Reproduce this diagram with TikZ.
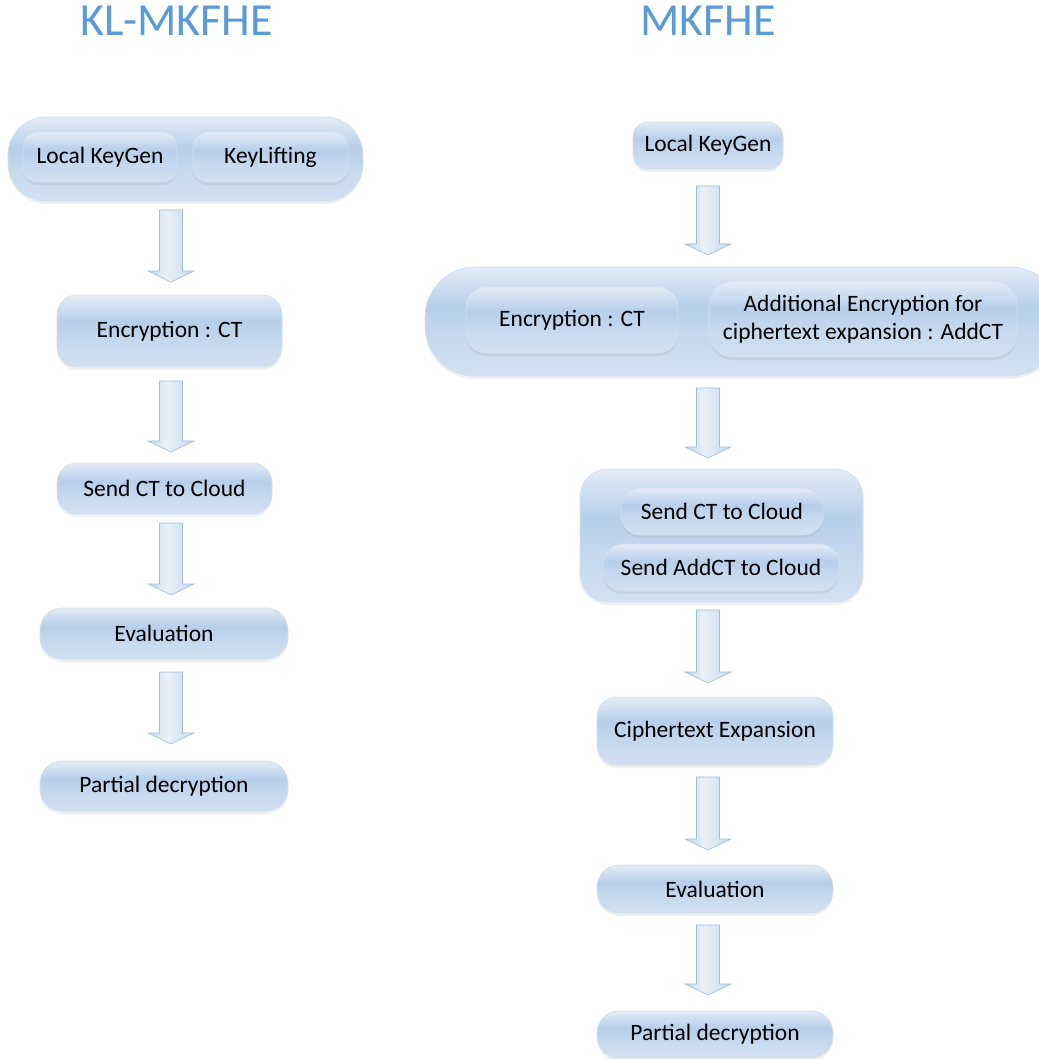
\documentclass[tikz,border=0pt]{standalone}
\usepackage{fontspec}
\setmainfont{Carlito}
\usetikzlibrary{calc,shadows}
\definecolor{boxTop}{HTML}{E3ECF7}
\definecolor{boxMid}{HTML}{B7CFEA}
\definecolor{boxLow}{HTML}{C8DAEE}
\definecolor{boxBot}{HTML}{D2E1F2}
\definecolor{boxLine}{HTML}{D3DFEC}
\definecolor{arL}{HTML}{C2D6EC}
\definecolor{arM}{HTML}{EAF1F9}
\definecolor{arR}{HTML}{C6D9EE}
\definecolor{arLine}{HTML}{9FBCDC}
\definecolor{titleBlue}{HTML}{5B9BD5}
\pgfdeclareverticalshading{boxshade}{100bp}{color(0bp)=(boxBot); color(25bp)=(boxBot); color(40bp)=(boxLow); color(57bp)=(boxMid); color(75bp)=(boxTop); color(100bp)=(boxTop)}
\pgfdeclarehorizontalshading{arrowshade}{100bp}{color(0bp)=(arL); color(25bp)=(arL); color(45bp)=(arM); color(75bp)=(arR); color(100bp)=(arR)}
\newcommand\blockarr[2]{%
  \path[blockarrow] ($(#1)+(-11.5,0)$) -- ($(#1)+(11.5,0)$) -- ($(#2)+(11.5,-11)$) -- ($(#2)+(23,-11)$) -- (#2) -- ($(#2)+(-23,-11)$) -- ($(#2)+(-11.5,-11)$) -- cycle;}
\begin{document}
\begin{tikzpicture}[x=1pt,y=-1pt,
  box/.style={draw=boxLine, line width=0.7pt, shading=boxshade, align=center, inner sep=0pt,
    font=\fontsize{23.5}{28}\selectfont,
    drop shadow={opacity=0.12, shadow xshift=0pt, shadow yshift=-3pt}},
  blockarrow/.style={draw=arLine, line width=0.6pt, shading=arrowshade, line join=miter},
  title/.style={font=\fontsize{46}{50}\selectfont, text=titleBlue, anchor=base, inner sep=0pt}]
\useasboundingbox[fill=white] (0,0) rectangle (1038,1059);

% titles
\node[title] (t1) at (176.5,36) {KL-MKFHE};
\node[title] (t2) at (708,36) {MKFHE};

% ---- left column ----
\node[box, minimum width=355pt, minimum height=84pt, rounded corners=38pt] (lo) at (185.5,159) {};
\node[box, minimum width=154pt, minimum height=50pt, rounded corners=15pt] (llk) at (100,157) {Local KeyGen};
\node[box, minimum width=155pt, minimum height=50pt, rounded corners=15pt] (lkl) at (270.5,157) {KeyLifting};
\node[box, minimum width=225pt, minimum height=72pt, rounded corners=20pt] (lenc) at (169.5,331) {Encryption : CT};
\node[box, minimum width=215pt, minimum height=51pt, rounded corners=20pt] (lsend) at (164.5,488.5) {Send CT to Cloud};
\node[box, minimum width=248pt, minimum height=51pt, rounded corners=22pt] (leval) at (164,633.5) {Evaluation};
\node[box, minimum width=248pt, minimum height=50pt, rounded corners=22pt] (lpart) at (164,786) {Partial decryption};

\coordinate (la1s) at (171,210); \coordinate (la1e) at (171,282);
\coordinate (la2s) at (171,381); \coordinate (la2e) at (171,452);
\coordinate (la3s) at (171,523); \coordinate (la3e) at (171,595);
\coordinate (la4s) at (171,672); \coordinate (la4e) at (171,744);
\blockarr{la1s}{la1e}
\blockarr{la2s}{la2e}
\blockarr{la3s}{la3e}
\blockarr{la4s}{la4e}

% ---- right column ----
\node[box, minimum width=150pt, minimum height=47pt, rounded corners=15pt] (rlk) at (708,145.5) {Local KeyGen};
\node[box, minimum width=635pt, minimum height=109pt, rounded corners=50pt] (ro1) at (742.5,321.5) {};
\node[box, minimum width=212pt, minimum height=66pt, rounded corners=20pt] (renc) at (572,320) {Encryption : CT};
\node[box, minimum width=308pt, minimum height=76pt, rounded corners=24pt] (radd) at (863,319) {Additional Encryption for\\ciphertext expansion : AddCT};
\node[box, minimum width=283pt, minimum height=133pt, rounded corners=28pt] (ro2) at (721.5,535.5) {};
\node[box, minimum width=202pt, minimum height=47pt, rounded corners=20pt] (rsend) at (722,511.5) {Send CT to Cloud};
\node[box, minimum width=236pt, minimum height=47pt, rounded corners=20pt] (rsendadd) at (721,567.5) {Send AddCT to Cloud};
\node[box, minimum width=236pt, minimum height=68pt, rounded corners=20pt] (rce) at (715,731) {Ciphertext Expansion};
\node[box, minimum width=236pt, minimum height=48pt, rounded corners=22pt] (reval) at (715,889) {Evaluation};
\node[box, minimum width=236pt, minimum height=47pt, rounded corners=22pt] (rpart) at (715,1034.5) {Partial decryption};

\coordinate (ra1s) at (708,186); \coordinate (ra1e) at (708,255);
\coordinate (ra2s) at (708,388); \coordinate (ra2e) at (708,458);
\coordinate (ra3s) at (708,610); \coordinate (ra3e) at (708,683);
\coordinate (ra4s) at (708,777); \coordinate (ra4e) at (708,850);
\coordinate (ra5s) at (708,925); \coordinate (ra5e) at (708,995);
\blockarr{ra1s}{ra1e}
\blockarr{ra2s}{ra2e}
\blockarr{ra3s}{ra3e}
\blockarr{ra4s}{ra4e}
\blockarr{ra5s}{ra5e}
\end{tikzpicture}
\end{document}
